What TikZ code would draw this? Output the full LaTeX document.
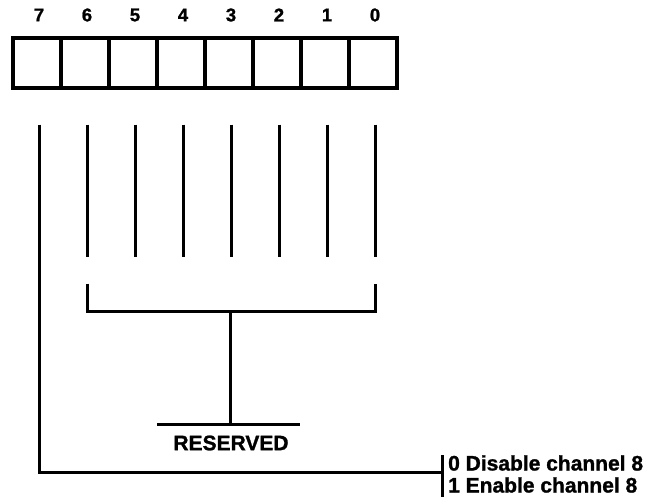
\documentclass[tikz,border=0pt]{standalone}
\usepackage{fontspec}
\setmainfont{Liberation Sans}[BoldFeatures={FakeBold=1.2}]
\usetikzlibrary{positioning, calc}

\tikzset{
  bitcell/.style={draw, line width=3.5pt, minimum width=48pt, minimum height=50pt, inner sep=0pt},
  bitlabel/.style={font=\bfseries\fontsize{18.5}{18.5}\selectfont, inner sep=0pt},
  wire/.style={line width=3pt},
  note/.style={font=\bfseries\fontsize{21}{22}\selectfont, align=left, inner sep=0pt}
}

\begin{document}
\begin{tikzpicture}[x=1pt, y=-1pt]
  \useasboundingbox (0,0) rectangle (649,500);
  % register bits
  \foreach \b [count=\i from 0] in {7,...,0} {
    \node[bitcell] (c\b) at (37+48*\i, 63) {};
    \node[bitlabel] (l\b) at (39+48*\i, 15) {\b};
    \coordinate (t\b) at ($(c\b.south)+(2.5,35)$);
  }
  % bits 6..0
  \foreach \b in {6,...,0} {
    \coordinate (e\b) at ($(t\b)+(0,132)$);
    \draw[wire] (t\b) -- (e\b);
  }
  \coordinate (bl) at ($(e6)+(0,27)$);
  \coordinate (br) at ($(e0)+(0,27)$);
  \coordinate (bm) at (230,312);
  \node[note] (res) at (231,443) {RESERVED};
  \coordinate (rl) at ($(res.north)+(-74,-11)$);
  \coordinate (rr) at ($(res.north)+(69,-11)$);
  \draw[wire] (bl) |- (bm) -| (br);
  \draw[wire] (bm) -- (bm |- rl);
  \draw[wire] (rl) -- (rr);
  % bit 7
  \node[note, anchor=west] (en) at (448,474) {0 Disable channel 8\\1 Enable channel 8};
  \coordinate (bt) at (442,455);
  \coordinate (bb) at (442,497);
  \draw[wire] (t7) |- (bt |- 0,472);
  \draw[wire] (bt) -- (bb);
\end{tikzpicture}
\end{document}
